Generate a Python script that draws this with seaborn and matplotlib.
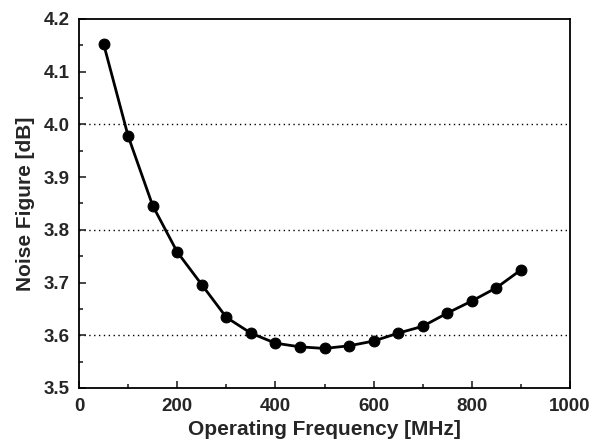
import pandas as pd
import matplotlib
matplotlib.use("Agg")
import matplotlib.pyplot as plt
import numpy as np
import seaborn as sns
from matplotlib.ticker import MultipleLocator, FormatStrFormatter

# data
freq = [50, 100, 150, 200, 250, 300, 350, 400, 450, 500,
        550, 600, 650, 700, 750, 800, 850, 900]
nf = [4.153, 3.978, 3.846, 3.758, 3.696, 3.634, 3.604, 3.585, 3.578, 3.575,
      3.580, 3.589, 3.604, 3.617, 3.642, 3.665, 3.690, 3.724]

df = pd.DataFrame({"freq": freq, "nf": nf})

sns.set_style("white")
plt.rcParams['font.family'] = ['Liberation Sans', 'DejaVu Sans']
plt.rcParams['font.weight'] = 'bold'

fig = plt.figure(figsize=(5.95, 4.48), dpi=100)
ax = fig.add_axes([0.1328, 0.134, 0.8252, 0.8236])

# dotted grid lines only at 3.6, 3.8, 4.0
for g in [3.6, 3.8, 4.0]:
    ax.axhline(g, color='black', linestyle=(0, (1, 2.5)), linewidth=1.0, zorder=0)

sns.lineplot(data=df, x="freq", y="nf", ax=ax, color='black', linewidth=2.0,
             marker='o', markersize=7.8, markeredgecolor='black')

ax.set_xlim(0, 1000)
ax.set_ylim(3.5, 4.2)
ax.xaxis.set_major_locator(MultipleLocator(200))
ax.xaxis.set_minor_locator(MultipleLocator(100))
ax.yaxis.set_major_locator(MultipleLocator(0.1))
ax.yaxis.set_minor_locator(MultipleLocator(0.05))
ax.yaxis.set_major_formatter(FormatStrFormatter('%.1f'))
ax.tick_params(which='both', direction='in', left=True, bottom=True,
               right=False, top=False, labelsize=13.5, width=1.2)
ax.tick_params(which='major', length=5, pad=7)
ax.tick_params(which='minor', length=3)
for lab in ax.get_xticklabels() + ax.get_yticklabels():
    lab.set_fontweight('bold')
for s in ax.spines.values():
    s.set_color('black')
    s.set_linewidth(1.3)

ax.set_xlabel("Operating Frequency [MHz]", fontsize=15, fontweight='bold', labelpad=4)
ax.set_ylabel("Noise Figure [dB]", fontsize=15, fontweight='bold', labelpad=6)

fig.savefig("out.png", dpi=100)
